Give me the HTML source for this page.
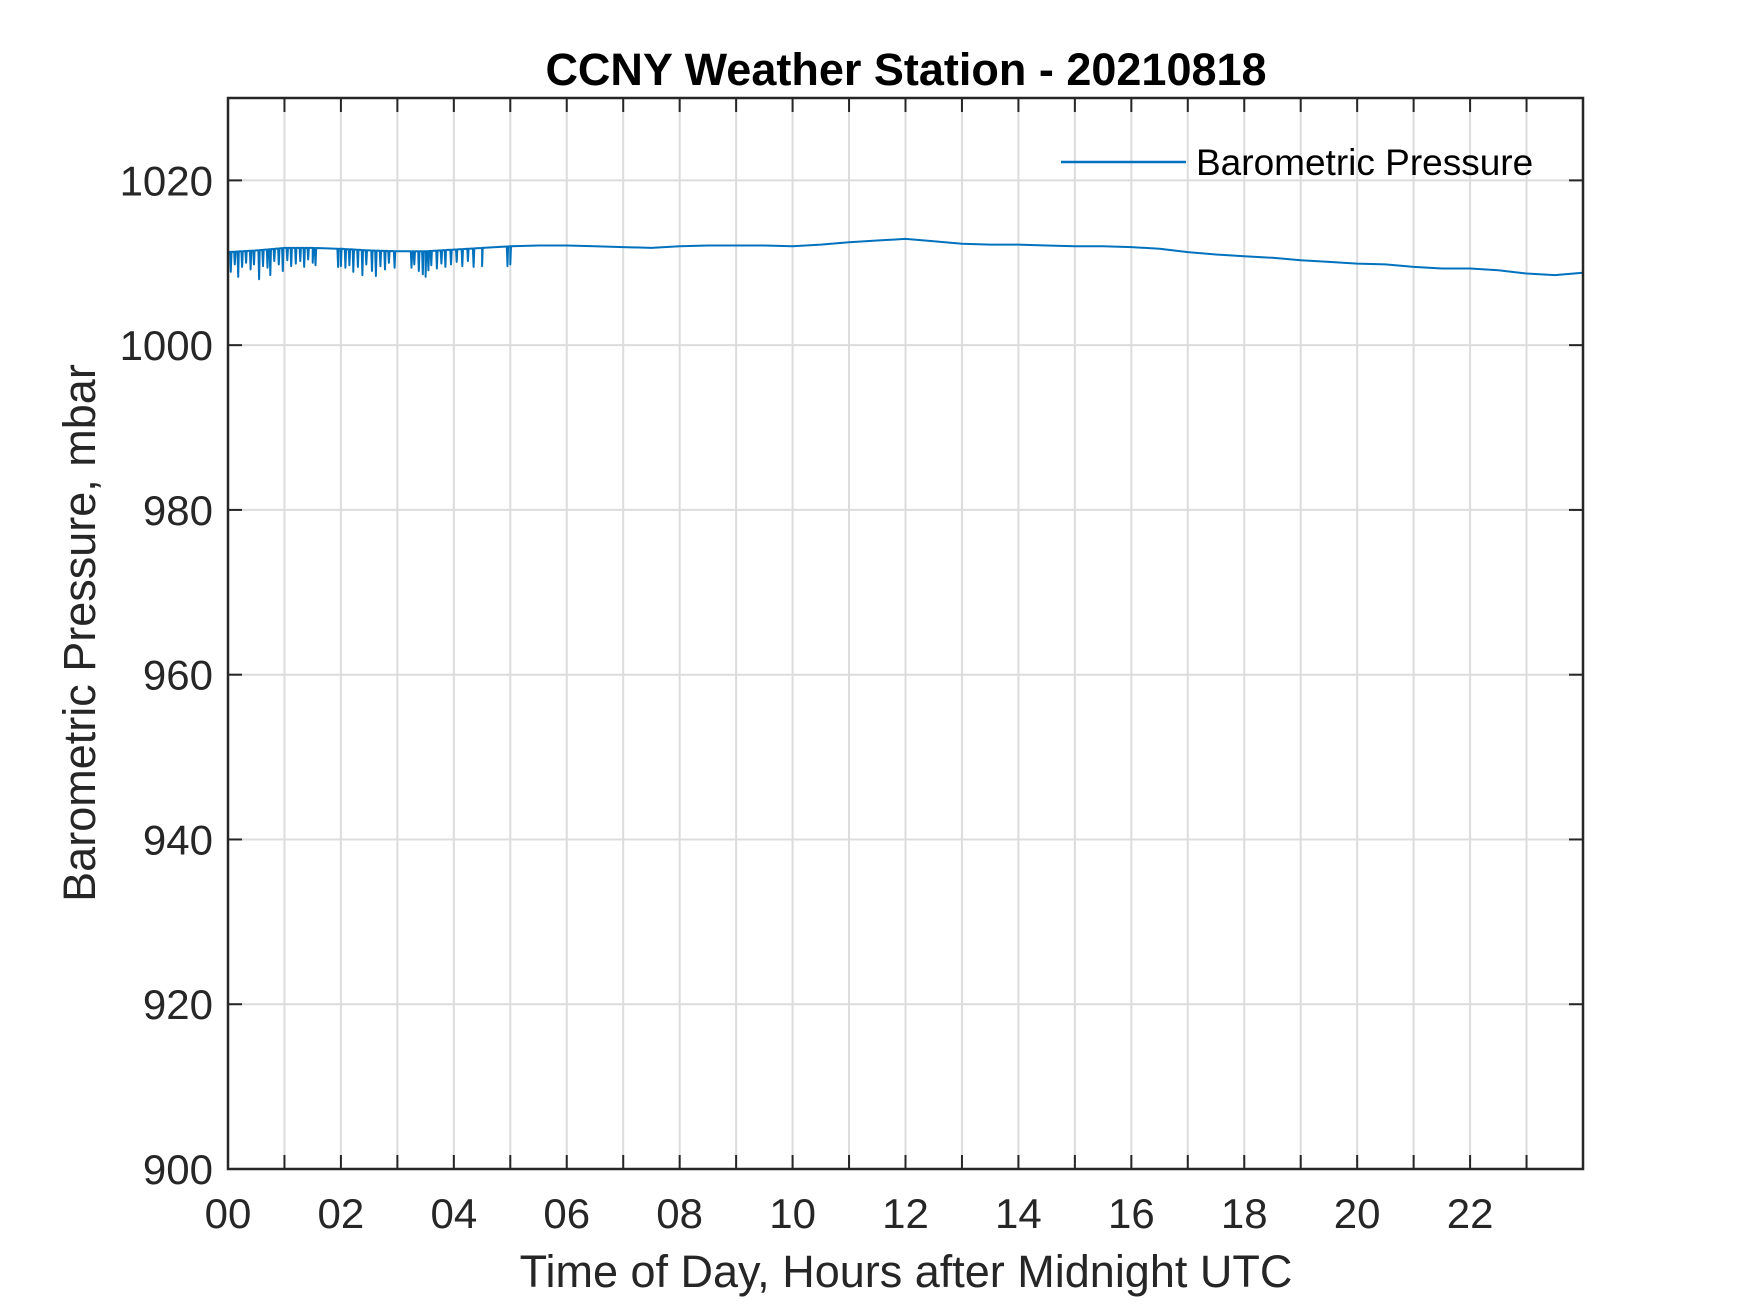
<!DOCTYPE html>
<html><head><meta charset="utf-8"><style>
body{margin:0;background:#fff}
svg{display:block}
text{font-family:"Liberation Sans",Arial,sans-serif;fill:#262626}
</style></head><body>
<svg id="chart" width="1750" height="1313" xmlns="http://www.w3.org/2000/svg">
<rect width="1750" height="1313" fill="#fff"/>
<g id="grid"></g>
<g id="series"></g>
<rect x="228" y="98" width="1355" height="1071" fill="none" stroke="#262626" stroke-width="2.5"/>
<g id="ticks"></g>
<text x="906" y="85" text-anchor="middle" font-size="45" font-weight="bold" style="fill:#000">CCNY Weather Station - 20210818</text>
<text x="906" y="1287" text-anchor="middle" font-size="45">Time of Day, Hours after Midnight UTC</text>
<text transform="translate(95,633) rotate(-90)" text-anchor="middle" font-size="45">Barometric Pressure, mbar</text>
<g>
<line x1="1061" y1="162" x2="1186" y2="162" stroke="#0072bd" stroke-width="2.5"/>
<text x="1196" y="175" font-size="37" style="fill:#000">Barometric Pressure</text>
</g>
</svg>
<script>
const xTicks=[0,2,4,6,8,10,12,14,16,18,20,22];
const xTickLabels=["00","02","04","06","08","10","12","14","16","18","20","22"];
const yTicks=[900,920,940,960,980,1000,1020];
const times=[0,0.5,1,1.5,2,2.5,3,3.5,4,4.5,5,5.5,6,6.5,7,7.5,8,8.5,9,9.5,10,10.5,11,11.5,12,12.5,13,13.5,14,14.5,15,15.5,16,16.5,17,17.5,18,18.5,19,19.5,20,20.5,21,21.5,22,22.5,23,23.5,24];
const values=[1011.3,1011.5,1011.8,1011.8,1011.7,1011.5,1011.4,1011.4,1011.6,1011.8,1012.0,1012.1,1012.1,1012.0,1011.9,1011.8,1012.0,1012.1,1012.1,1012.1,1012.0,1012.2,1012.5,1012.7,1012.9,1012.6,1012.3,1012.2,1012.2,1012.1,1012.0,1012.0,1011.9,1011.7,1011.3,1011.0,1010.8,1010.6,1010.3,1010.1,1009.9,1009.8,1009.5,1009.3,1009.3,1009.1,1008.7,1008.5,1008.8];
const spikeTimes=[0.05,0.12,0.18,0.25,0.32,0.4,0.46,0.55,0.62,0.7,0.75,0.82,0.9,0.97,1.05,1.12,1.2,1.28,1.35,1.42,1.5,1.55,1.95,2.0,2.08,2.15,2.22,2.3,2.38,2.45,2.55,2.62,2.7,2.78,2.85,2.95,3.25,3.3,3.38,3.45,3.5,3.55,3.6,3.7,3.78,3.85,3.95,4.05,4.15,4.25,4.35,4.5,4.95,5.0];
const spikeValues=[1008.9,1009.8,1008.3,1009.5,1010.0,1009.2,1009.8,1008.0,1009.6,1009.4,1008.5,1010.2,1009.8,1009.0,1010.3,1009.6,1009.9,1010.2,1009.5,1010.4,1010.0,1009.7,1009.5,1009.6,1009.4,1009.7,1008.9,1009.5,1008.5,1009.8,1009.0,1008.4,1009.6,1009.2,1010.0,1009.4,1009.4,1009.8,1009.0,1008.6,1008.3,1009.1,1009.7,1009.3,1009.9,1009.5,1009.8,1010.1,1009.6,1010.2,1009.5,1009.6,1009.6,1009.8];
const X=h=>228+h*(1355/24), Y=v=>1169-(v-900)*(1071/130);
const NS="http://www.w3.org/2000/svg";
const grid=document.getElementById('grid'),ticks=document.getElementById('ticks'),series=document.getElementById('series');
function mk(tag,attrs,parent){const e=document.createElementNS(NS,tag);for(const k in attrs)e.setAttribute(k,attrs[k]);parent.appendChild(e);return e;}
function base(h){for(let i=0;i<times.length-1;i++){if(h<=times[i+1]){const f=(h-times[i])/(times[i+1]-times[i]);return values[i]+f*(values[i+1]-values[i]);}}return values[values.length-1];}
for(let h=1;h<24;h++){
 const g=mk('line',{x1:X(h),x2:X(h),y1:98,y2:1169,stroke:'#dcdcdc','stroke-width':2},grid);
 
 
 const t1=mk('line',{x1:X(h),x2:X(h),y1:1169,y2:1155,stroke:'#262626','stroke-width':2},ticks);
 
 
 const t2=mk('line',{x1:X(h),x2:X(h),y1:98,y2:112,stroke:'#262626','stroke-width':2},ticks);
 
 
}
xTicks.forEach((h,i)=>{
 const t=mk('text',{x:X(h),y:1228,'text-anchor':'middle','font-size':42},ticks);
 t.textContent=xTickLabels[i];
 
 
});
yTicks.forEach(v=>{
 if(v>900&&v<1030){
  const g=mk('line',{x1:228,x2:1583,y1:Y(v),y2:Y(v),stroke:'#dcdcdc','stroke-width':2},grid);
  
  
 }
 const a=mk('line',{x1:228,x2:242,y1:Y(v),y2:Y(v),stroke:'#262626','stroke-width':2},ticks);
 
 
 const b=mk('line',{x1:1569,x2:1583,y1:Y(v),y2:Y(v),stroke:'#262626','stroke-width':2},ticks);
 
 
 const t=mk('text',{x:213,y:Y(v)+15,'text-anchor':'end','font-size':42},ticks);
 t.textContent=v;
 
 
});
// merge baseline and narrow spikes
const pts=[];
times.forEach((h,i)=>pts.push([h,values[i]]));
spikeTimes.forEach((h,i)=>{pts.push([h-0.012,base(h-0.012)]);pts.push([h,spikeValues[i]]);pts.push([h+0.012,base(h+0.012)]);});
pts.sort((a,b)=>a[0]-b[0]);
const pl=mk('polyline',{points:pts.map(p=>X(p[0]).toFixed(1)+','+Y(p[1]).toFixed(1)).join(' '),fill:'none',stroke:'#0072bd','stroke-width':2,'stroke-linejoin':'round'},series);


</script>
</body></html>
